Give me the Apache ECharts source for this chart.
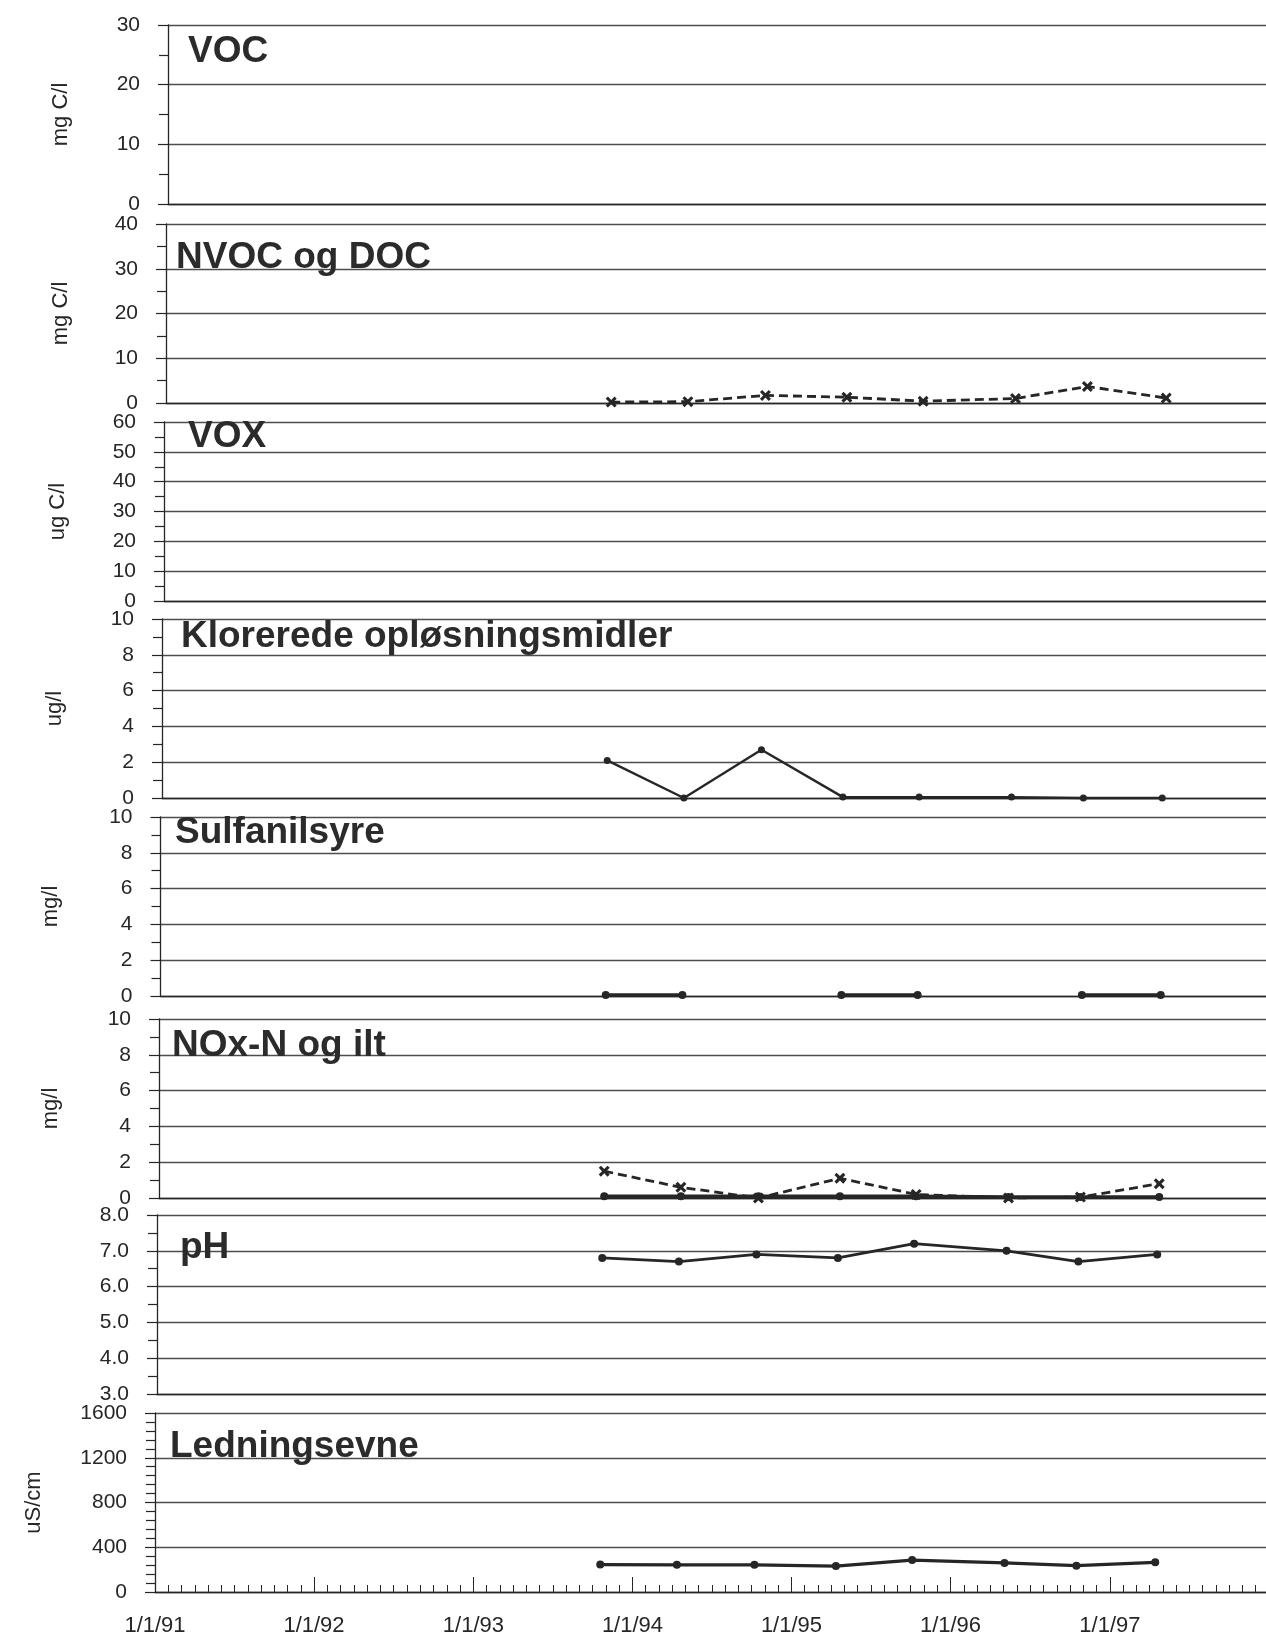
<!DOCTYPE html>
<html>
<head>
<meta charset="utf-8">
<script src="https://cdn.jsdelivr.net/npm/echarts@6/dist/echarts.min.js"></script>
<style>
html,body{margin:0;padding:0;background:#ffffff;}
#chart{width:1266px;height:1639px;}
</style>
</head>
<body>
<div id="chart"></div>
<script>
// ---------------- data ----------------
const sampleDates = ['1993-10-19','1994-04-13','1994-10-08','1995-04-13','1995-10-05','1996-05-04','1996-10-16','1997-04-15'];
const vocValues = [];
const nvocDocValues = [0.2, 0.3, 1.7, 1.3, 0.4, 1.0, 3.7, 1.1];
const voxValues = [];
const kloreredeValues = [2.1, 0.0, 2.7, 0.05, 0.05, 0.05, 0.0, 0.0];
const sulfanilsyreValues = [0.05, 0.05, null, 0.05, 0.05, null, 0.05, 0.05];
const noxNValues = [0.1, 0.1, 0.1, 0.1, 0.1, 0.05, 0.05, 0.05];
const iltValues = [1.5, 0.6, 0.0, 1.1, 0.2, 0.0, 0.05, 0.8];
const phValues = [6.8, 6.7, 6.9, 6.8, 7.2, 7.0, 6.7, 6.9];
const ledningsevneValues = [245, 243, 243, 232, 285, 260, 235, 265];

const panelTitles = ['VOC', 'NVOC og DOC', 'VOX', 'Klorerede opløsningsmidler', 'Sulfanilsyre', 'NOx-N og ilt', 'pH', 'Ledningsevne'];
const unitNames = ['mg C/l', 'mg C/l', 'ug C/l', 'ug/l', 'mg/l', 'mg/l', '', 'uS/cm'];
const yMins = [0, 0, 0, 0, 0, 0, 3, 0];
const yMaxs = [30, 40, 60, 10, 10, 10, 8, 1600];
const yIntervals = [10, 10, 10, 2, 2, 2, 1, 400];
const yDecimals = [0, 0, 0, 0, 0, 0, 1, 0];
const xTickLabels = ['1/1/91', '1/1/92', '1/1/93', '1/1/94', '1/1/95', '1/1/96', '1/1/97'];
const xStart = '1991-01-01';
const xEnd = '1998-01-31';

// ---------------- layout / style ----------------
const gridLefts = [168, 166, 164, 162, 160.5, 159, 157, 155];
const gridWidth = 1127;
const panelTops = [25, 224, 422, 619, 817, 1019, 1215, 1413];
const panelHeight = 179;
const minorSplits = [2, 2, 2, 2, 2, 2, 2, 5];
const nameGaps = [96, 94, 95, 96, 99, 97.5, 0, 110];
const titleX = [188, 176, 188, 181, 175, 172, 180, 170];
const titleCapTop = [37, 243, 422, 622, 818, 1031, 1233, 1432];

const INK = '#262626';
const GRID = '#4d4d4d';
const FONT = '"Liberation Sans", Arial, sans-serif';
const crossPath = 'path://M2,0 L5,3 L8,0 L10,2 L7,5 L10,8 L8,10 L5,7 L2,10 L0,8 L3,5 L0,2 Z';

function pairs(values) {
  return sampleDates.map((d, i) => [d, values[i] === undefined ? null : values[i]]);
}

const chart = echarts.init(document.getElementById('chart'), null, {renderer: 'canvas'});

const grids = [], xAxes = [], yAxes = [], series = [], graphics = [];

for (let i = 0; i < 8; i++) {
  const isLast = i === 7;
  grids.push({
    left: gridLefts[i], width: gridWidth, top: panelTops[i], height: panelHeight,
    containLabel: false, outerBoundsMode: 'none'
  });
  xAxes.push({
    type: 'time', gridIndex: i, min: xStart, max: xEnd,
    minInterval: 365 * 86400000, maxInterval: 366 * 86400000,
    axisLine: {show: true, onZero: false, lineStyle: {color: INK, width: 1.3}},
    axisTick: {show: isLast, inside: true, length: 15, lineStyle: {color: INK, width: 1}},
    minorTick: {show: isLast, splitNumber: 12, length: 7, lineStyle: {color: INK, width: 1}},
    axisLabel: {
      show: isLast, margin: 23, fontFamily: FONT, fontSize: 22, color: INK,
      showMinLabel: true, showMaxLabel: false, hideOverlap: false,
      formatter: function (v) {
        const d = new Date(v);
        if (d.getMonth() !== 0 || d.getDate() !== 1) return '';
        return xTickLabels[d.getFullYear() - 1991] || '';
      }
    },
    splitLine: {show: false}
  });
  yAxes.push({
    type: 'value', gridIndex: i, min: yMins[i], max: yMaxs[i], interval: yIntervals[i],
    name: unitNames[i], nameLocation: 'middle', nameRotate: 90, nameGap: nameGaps[i],
    nameTextStyle: {fontFamily: FONT, fontSize: 22, color: INK},
    axisLine: {show: true, lineStyle: {color: INK, width: 1.3}},
    axisTick: {show: true, inside: false, length: 10, lineStyle: {color: INK, width: 1.2}},
    minorTick: {show: true, splitNumber: minorSplits[i], length: 9, lineStyle: {color: INK, width: 1.2}},
    axisLabel: {
      margin: 28, fontFamily: FONT, fontSize: 21, color: INK,
      showMinLabel: true, showMaxLabel: true,
      formatter: (function (dec) { return function (v) { return v.toFixed(dec); }; })(yDecimals[i])
    },
    splitLine: {show: true, lineStyle: {color: GRID, width: 1.4}}
  });
  graphics.push({
    type: 'text', left: titleX[i], top: titleCapTop[i] - 4, z: 100,
    style: {text: panelTitles[i], font: 'bold 37px ' + FONT, fill: '#2b2b2b'}
  });
}

function solid(idx, values, width, size) {
  return {
    type: 'line', xAxisIndex: idx, yAxisIndex: idx, data: pairs(values),
    clip: false, connectNulls: false, symbol: 'circle', symbolSize: size,
    lineStyle: {color: INK, width: width}, itemStyle: {color: INK},
    animation: false
  };
}
function dashed(idx, values) {
  return {
    type: 'line', xAxisIndex: idx, yAxisIndex: idx, data: pairs(values),
    clip: false, symbol: crossPath, symbolSize: 11,
    lineStyle: {color: INK, width: 2.8, type: [9, 5]}, itemStyle: {color: INK},
    animation: false
  };
}

series.push(solid(0, vocValues, 2.5, 7));
series.push(dashed(1, nvocDocValues));
series.push(solid(2, voxValues, 2.5, 7));
series.push(solid(3, kloreredeValues, 2.4, 7));
series.push(solid(4, sulfanilsyreValues, 3.5, 8));
series.push(solid(5, noxNValues, 3.5, 8));
series.push(dashed(5, iltValues));
series.push(solid(6, phValues, 2.8, 8));
series.push(solid(7, ledningsevneValues, 3.2, 8));

chart.setOption({
  animation: false,
  backgroundColor: '#ffffff',
  grid: grids,
  xAxis: xAxes,
  yAxis: yAxes,
  series: series,
  graphic: graphics
});
</script>
</body>
</html>
